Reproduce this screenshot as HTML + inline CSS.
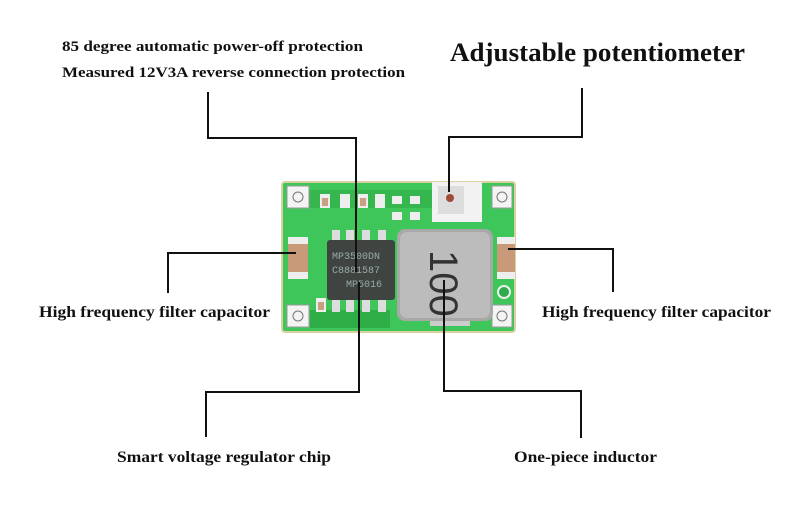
<!DOCTYPE html>
<html><head><meta charset="utf-8"><style>
html,body{margin:0;padding:0;background:#fff;}
svg{display:block}
text{font-family:"Liberation Serif",serif;font-weight:bold;fill:#111}
</style></head><body>
<svg width="811" height="510" viewBox="0 0 811 510">
<rect width="811" height="510" fill="#fff"/>
<!-- board -->
<rect x="282" y="182" width="233" height="150" rx="3" fill="#3ec65a"/>
<rect x="282" y="182" width="233" height="150" rx="3" fill="none" stroke="#d9d2a0" stroke-width="2"/>
<rect x="298" y="190" width="140" height="18" fill="#35b64e"/>
<rect x="310" y="310" width="80" height="18" fill="#2fae48"/>
<g fill="#f4f4f4" stroke="#999" stroke-width="1">
<rect x="287" y="186" width="22" height="22"/><rect x="492" y="186" width="20" height="22"/>
<rect x="287" y="305" width="22" height="22"/><rect x="492" y="305" width="20" height="22"/>
</g>
<g fill="none" stroke="#777"><circle cx="298" cy="197" r="5"/><circle cx="502" cy="197" r="5"/><circle cx="298" cy="316" r="5"/><circle cx="502" cy="316" r="5"/></g>
<g fill="#eee"><rect x="320" y="194" width="10" height="14"/><rect x="340" y="194" width="10" height="14"/><rect x="358" y="194" width="10" height="14"/><rect x="375" y="194" width="10" height="14"/><rect x="392" y="196" width="10" height="8"/><rect x="410" y="196" width="10" height="8"/><rect x="392" y="212" width="10" height="8"/><rect x="410" y="212" width="10" height="8"/><rect x="316" y="298" width="10" height="14"/></g>
<g fill="#c8a080"><rect x="322" y="198" width="6" height="8"/><rect x="360" y="198" width="6" height="8"/><rect x="318" y="302" width="6" height="8"/></g>
<rect x="288" y="237" width="20" height="42" fill="#eee"/><rect x="288" y="244" width="20" height="28" fill="#c99a7a"/>
<rect x="497" y="237" width="18" height="42" fill="#eee"/><rect x="497" y="244" width="18" height="28" fill="#c99a7a"/>
<circle cx="504" cy="292" r="6" fill="#2faa4c" stroke="#eee" stroke-width="2"/>
<g fill="#ddd"><rect x="332" y="230" width="8" height="12"/><rect x="346" y="230" width="8" height="12"/><rect x="362" y="230" width="8" height="12"/><rect x="378" y="230" width="8" height="12"/>
<rect x="332" y="298" width="8" height="14"/><rect x="346" y="298" width="8" height="14"/><rect x="362" y="298" width="8" height="14"/><rect x="378" y="298" width="8" height="14"/></g>
<rect x="327" y="240" width="68" height="60" rx="3" fill="#3f4440"/>
<text x="332" y="259" style="font-family:'Liberation Mono',monospace;font-weight:normal;font-size:10px;fill:#9aa">MP3500DN</text>
<text x="332" y="273" style="font-family:'Liberation Mono',monospace;font-weight:normal;font-size:10px;fill:#9aa">C8881587</text>
<text x="346" y="287" style="font-family:'Liberation Mono',monospace;font-weight:normal;font-size:10px;fill:#9aa">MP5016</text>
<rect x="432" y="182" width="50" height="40" fill="#f2f2f2"/>
<rect x="438" y="186" width="26" height="28" fill="#ddd"/>
<circle cx="450" cy="198" r="4" fill="#a04a3a"/>
<rect x="430" y="316" width="40" height="10" fill="#ccc"/>
<rect x="397" y="229" width="96" height="92" rx="8" fill="#a8a8a8"/>
<rect x="400" y="232" width="90" height="86" rx="7" fill="#bcbcbc"/>
<text transform="translate(430,250) rotate(90)" x="0" y="0" style="font-family:'Liberation Sans',sans-serif;font-weight:normal;font-size:40px;fill:#333">100</text>
<g fill="none" stroke="#111" stroke-width="2">
<polyline points="208,92 208,138 356,138 356,272"/>
<polyline points="582,88 582,137 449,137 449,192"/>
<polyline points="168,293 168,253 296,253"/>
<polyline points="508,249 613,249 613,292"/>
<polyline points="359,282 359,392 206,392 206,437"/>
<polyline points="444,280 444,391 581,391 581,438"/>
</g>
<text x="62" y="51" font-size="15" textLength="301" lengthAdjust="spacingAndGlyphs">85 degree automatic power-off protection</text>
<text x="62" y="77" font-size="15" textLength="343" lengthAdjust="spacingAndGlyphs">Measured 12V3A reverse connection protection</text>
<text x="450" y="61" font-size="26" textLength="295" lengthAdjust="spacingAndGlyphs">Adjustable potentiometer</text>
<text x="39" y="317" font-size="16" textLength="231" lengthAdjust="spacingAndGlyphs">High frequency filter capacitor</text>
<text x="542" y="317" font-size="16" textLength="229" lengthAdjust="spacingAndGlyphs">High frequency filter capacitor</text>
<text x="117" y="462" font-size="16" textLength="214" lengthAdjust="spacingAndGlyphs">Smart voltage regulator chip</text>
<text x="514" y="462" font-size="16" textLength="143" lengthAdjust="spacingAndGlyphs">One-piece inductor</text>
</svg>
</body></html>
